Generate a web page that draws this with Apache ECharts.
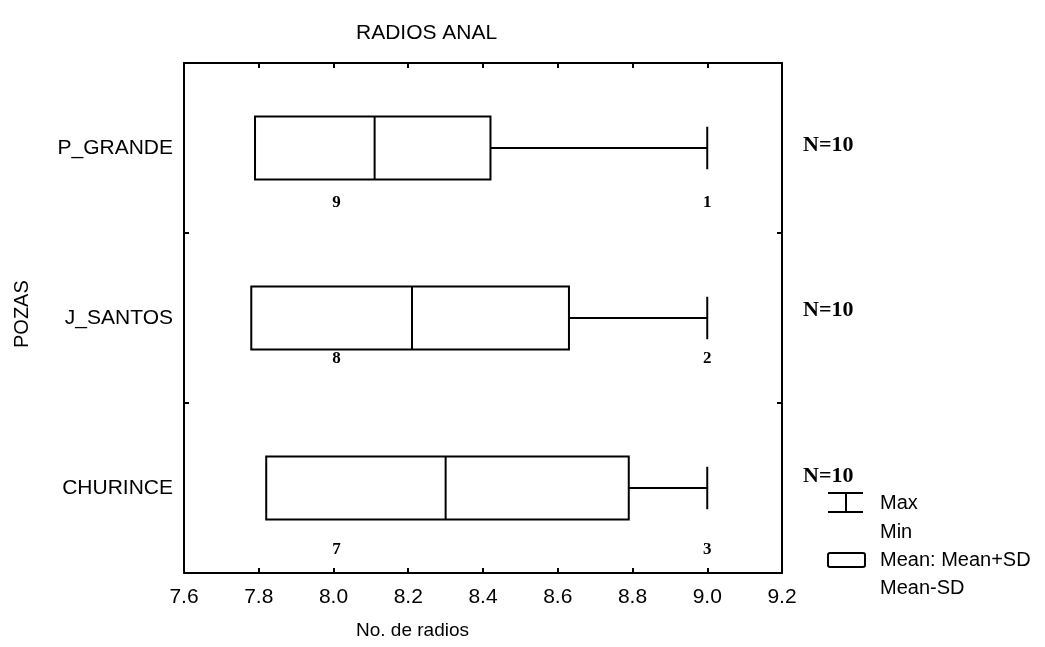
<!DOCTYPE html>
<html>
<head>
<meta charset="utf-8">
<title>RADIOS ANAL</title>
<script src="https://cdn.jsdelivr.net/npm/echarts@6/dist/echarts.min.js"></script>
<style>
  html, body { margin: 0; padding: 0; background: #fff; }
  #chart { width: 1045px; height: 647px; }
</style>
</head>
<body>
<div id="chart"></div>
<script>
// pozas, listed bottom to top as drawn
const pozas = ['CHURINCE', 'J_SANTOS', 'P_GRANDE'];
const meanMinusSD = [7.82, 7.78, 7.79];
const means = [8.30, 8.21, 8.11];
const meanPlusSD = [8.79, 8.63, 8.42];
const maxVals = [9.0, 9.0, 9.0];
const minVals = [8.0, 8.0, 8.0];
// frequencies printed under the min / max values
const countAtMin = [7, 8, 9];
const countAtMax = [3, 2, 1];
const nVals = [10, 10, 10];

// vertical offsets (px) of the small count labels and of the N= labels per row
const countLabelDy = [62, 41, 55];
const nLabelDy = [-12, -8, -3];

const chart = echarts.init(document.getElementById('chart'));

const boxData = pozas.map((p, i) => [i, meanMinusSD[i], means[i], meanPlusSD[i], maxVals[i], minVals[i]]);

function renderBox(params, api) {
  const cat = api.value(0);
  const lo = api.coord([api.value(1), cat]);
  const mid = api.coord([api.value(2), cat]);
  const hi = api.coord([api.value(3), cat]);
  const mx = api.coord([api.value(4), cat]);
  const mn = api.coord([api.value(5), cat]);
  const band = api.size([0, 1])[1];
  const h = band * 0.37;
  const cap = band * 0.25;
  const y = lo[1];
  const line = { stroke: '#000', lineWidth: 2 };
  const kids = [
    { type: 'line', shape: { x1: hi[0], y1: y, x2: mx[0], y2: y }, style: line },
    { type: 'line', shape: { x1: mx[0], y1: y - cap / 2, x2: mx[0], y2: y + cap / 2 }, style: line },
    { type: 'rect', shape: { x: lo[0], y: y - h / 2, width: hi[0] - lo[0], height: h }, style: { fill: '#fff', stroke: '#000', lineWidth: 2 } },
    { type: 'line', shape: { x1: mid[0], y1: y - h / 2, x2: mid[0], y2: y + h / 2 }, style: line }
  ];
  if (mn[0] < lo[0]) {
    kids.push({ type: 'line', shape: { x1: mn[0], y1: y, x2: lo[0], y2: y }, style: line });
    kids.push({ type: 'line', shape: { x1: mn[0], y1: y - cap / 2, x2: mn[0], y2: y + cap / 2 }, style: line });
  }
  const i = params.dataIndex;
  const labelStyle = { fill: '#000', font: 'bold 17px "Liberation Serif", serif', align: 'center', verticalAlign: 'middle' };
  kids.push({ type: 'text', x: mn[0] + 3, y: y + countLabelDy[i], style: Object.assign({ text: String(countAtMin[i]) }, labelStyle) });
  kids.push({ type: 'text', x: mx[0], y: y + countLabelDy[i], style: Object.assign({ text: String(countAtMax[i]) }, labelStyle) });
  // N= label to the right of the frame
  const cs = params.coordSys;
  kids.push({
    type: 'text', x: cs.x + cs.width + 21, y: y + nLabelDy[i],
    style: { text: 'N=' + nVals[i], fill: '#000', font: 'bold 22px "Liberation Serif", serif', align: 'left', verticalAlign: 'middle' }
  });
  return { type: 'group', children: kids };
}

const sans = '"Liberation Sans", Arial, sans-serif';
const axisLine = { show: true, lineStyle: { color: '#000', width: 2 } };
const tickIn = { show: true, inside: true, length: 5, lineStyle: { color: '#000', width: 2 } };

chart.setOption({
  backgroundColor: '#fff',
  animation: false,
  title: {
    text: 'RADIOS ANAL', left: 351, top: 18,
    textStyle: { fontFamily: sans, fontSize: 21, fontWeight: 'normal', color: '#000' }
  },
  grid: { left: 184, top: 63, width: 598, height: 510 },
  xAxis: [
    {
      type: 'value', min: 7.6, max: 9.2, interval: 0.2, position: 'bottom',
      axisLine: axisLine, axisTick: tickIn, splitLine: { show: false },
      axisLabel: { color: '#000', fontFamily: sans, fontSize: 21, margin: 14, formatter: v => v.toFixed(1) }
    },
    {
      type: 'value', min: 7.6, max: 9.2, interval: 0.2, position: 'top',
      axisLine: axisLine, axisTick: tickIn, splitLine: { show: false }, axisLabel: { show: false }
    }
  ],
  yAxis: [
    {
      type: 'category', data: pozas, position: 'left',
      axisLine: axisLine, axisTick: tickIn, splitLine: { show: false },
      axisLabel: { color: '#000', fontFamily: sans, fontSize: 21, margin: 11 }
    },
    {
      type: 'category', data: pozas, position: 'right',
      axisLine: axisLine, axisTick: tickIn, splitLine: { show: false }, axisLabel: { show: false }
    }
  ],
  series: [{
    type: 'custom',
    renderItem: renderBox,
    encode: { x: [1, 2, 3, 4, 5], y: 0 },
    clip: false,
    data: boxData
  }],
  graphic: [
    { type: 'text', left: 356, top: 621, style: { text: 'No. de radios', fill: '#000', font: '19px ' + sans } },
    { type: 'text', x: 12, y: 348, rotation: Math.PI / 2, style: { text: 'POZAS', fill: '#000', font: '20px ' + sans } },
    // legend: whisker icon
    { type: 'line', shape: { x1: 828, y1: 493, x2: 863, y2: 493 }, style: { stroke: '#000', lineWidth: 2 } },
    { type: 'line', shape: { x1: 828, y1: 512, x2: 863, y2: 512 }, style: { stroke: '#000', lineWidth: 2 } },
    { type: 'line', shape: { x1: 846, y1: 493, x2: 846, y2: 512 }, style: { stroke: '#000', lineWidth: 2 } },
    { type: 'text', x: 880, y: 503, style: { text: 'Max', fill: '#000', font: '20px ' + sans, verticalAlign: 'middle' } },
    { type: 'text', x: 880, y: 532, style: { text: 'Min', fill: '#000', font: '20px ' + sans, verticalAlign: 'middle' } },
    // legend: box icon
    { type: 'rect', shape: { x: 828, y: 553, width: 37, height: 14, r: 2 }, style: { fill: '#fff', stroke: '#000', lineWidth: 2 } },
    { type: 'text', x: 880, y: 560, style: { text: 'Mean: Mean+SD', fill: '#000', font: '20px ' + sans, verticalAlign: 'middle' } },
    { type: 'text', x: 880, y: 588, style: { text: 'Mean-SD', fill: '#000', font: '20px ' + sans, verticalAlign: 'middle' } }
  ]
});
</script>
</body>
</html>
